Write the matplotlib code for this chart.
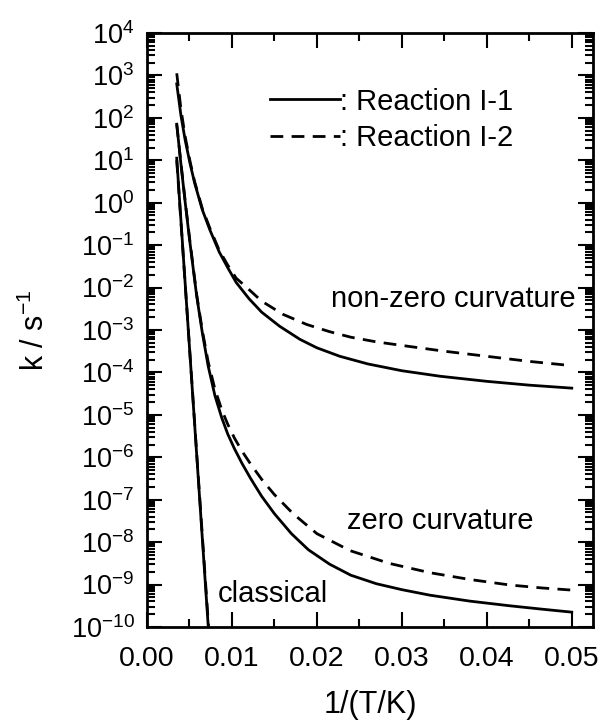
import numpy as np
import matplotlib
matplotlib.use("Agg")
import matplotlib.pyplot as plt
from matplotlib.lines import Line2D
from matplotlib.ticker import FixedLocator, FormatStrFormatter, LogLocator, LogFormatterMathtext

plt.rcParams['font.family'] = ['Liberation Sans', 'DejaVu Sans']
plt.rcParams['mathtext.fontset'] = 'custom'
plt.rcParams['mathtext.rm'] = 'Liberation Sans'
plt.rcParams['mathtext.it'] = 'Liberation Sans:italic'
plt.rcParams['mathtext.bf'] = 'Liberation Sans:bold'

# ---- data: x = 1/(T/K); values are log10(k / s^-1) ----
x_nz_1 = [0.0035, 0.0040, 0.0045, 0.00506, 0.0056, 0.0065, 0.0074, 0.0085, 0.0095, 0.0105,
          0.0120, 0.0135, 0.0156, 0.0180, 0.0200, 0.0227, 0.0260, 0.0300, 0.0345, 0.0400,
          0.0450, 0.0500]
lk_nz_1 = [2.80, 2.05, 1.47, 0.93, 0.47, -0.16, -0.64, -1.16, -1.53, -1.88,
           -2.26, -2.58, -2.91, -3.22, -3.42, -3.62, -3.80, -3.96, -4.09, -4.21,
           -4.30, -4.37]

x_nz_2 = [0.0035, 0.0040, 0.0045, 0.00506, 0.0056, 0.0065, 0.0074, 0.0085, 0.0095, 0.0105,
          0.0117, 0.0135, 0.0160, 0.0188, 0.0215, 0.0240, 0.0270, 0.0306, 0.0350, 0.0400,
          0.0450, 0.0500]
lk_nz_2 = [3.05, 2.20, 1.55, 0.98, 0.50, -0.13, -0.60, -1.12, -1.47, -1.78,
           -1.99, -2.32, -2.63, -2.87, -3.04, -3.17, -3.28, -3.38, -3.50, -3.62,
           -3.74, -3.84]

x_zc_1 = [0.0035, 0.0040, 0.0045, 0.0050, 0.0055, 0.00585, 0.0065, 0.0072, 0.0080, 0.0088,
          0.0095, 0.0103, 0.0112, 0.0122, 0.0135, 0.0150, 0.0170, 0.0190, 0.0215, 0.0240,
          0.0270, 0.0300, 0.0333, 0.0380, 0.0427, 0.0465, 0.0500]
lk_zc_1 = [1.85, 0.90, 0.00, -0.85, -1.65, -2.20, -3.05, -3.85, -4.55, -5.07,
           -5.45, -5.80, -6.15, -6.50, -6.92, -7.33, -7.80, -8.18, -8.52, -8.78,
           -8.98, -9.12, -9.25, -9.39, -9.50, -9.58, -9.65]

x_zc_2 = [0.0035, 0.0040, 0.0045, 0.0050, 0.0055, 0.00585, 0.0065, 0.0072, 0.0080, 0.0088,
          0.0095, 0.0103, 0.0112, 0.0122, 0.0135, 0.0150, 0.0172, 0.0200, 0.0239, 0.0285,
          0.0333, 0.0380, 0.0427, 0.0465, 0.0500]
lk_zc_2 = [1.85, 0.92, 0.03, -0.82, -1.62, -2.17, -3.00, -3.75, -4.40, -4.88,
           -5.22, -5.55, -5.86, -6.16, -6.52, -6.88, -7.33, -7.80, -8.20, -8.50,
           -8.72, -8.88, -9.01, -9.08, -9.13]

x_cl_1 = [0.0035, 0.0050, 0.0060, 0.0072]
lk_cl_1 = [1.05, -3.41, -6.39, -9.96]

x_cl_2 = [0.0035, 0.0050, 0.0060, 0.00725]
lk_cl_2 = [1.00, -3.40, -6.35, -10.00]

legend_labels = [": Reaction I-1", ": Reaction I-2"]
xticks = [0.00, 0.01, 0.02, 0.03, 0.04, 0.05]
xminor = [0.005, 0.015, 0.025, 0.035, 0.045]
annotations = [("non-zero curvature", 0.0360, -2.28, 'center'),
               ("zero curvature", 0.0345, -7.5, 'center'),
               ("classical", 0.00835, -9.22, 'left')]

def k(vals):
    return np.power(10.0, np.asarray(vals))

fig = plt.figure(figsize=(6.01, 7.25), dpi=100)
ax = fig.add_axes([147/601, 98/725, 446/601, 594/725])

lw = 2.0
dash = (4.6, 3.0)
ax.plot(x_nz_1, k(lk_nz_1), color='black', lw=lw)
ax.plot(x_nz_2, k(lk_nz_2), color='black', lw=lw, dashes=dash)
ax.plot(x_zc_1, k(lk_zc_1), color='black', lw=lw)
ax.plot(x_zc_2, k(lk_zc_2), color='black', lw=lw, dashes=dash)
ax.plot(x_cl_1, k(lk_cl_1), color='black', lw=lw)
ax.plot(x_cl_2, k(lk_cl_2), color='black', lw=lw, dashes=dash)

ax.set_yscale('log')
ax.set_xlim(0.0, 0.0525)
ax.set_ylim(1e-10, 1e4)

ax.xaxis.set_major_locator(FixedLocator(xticks))
ax.xaxis.set_minor_locator(FixedLocator(xminor))
ax.xaxis.set_major_formatter(FormatStrFormatter('%.2f'))
ax.yaxis.set_major_locator(LogLocator(base=10, numticks=30))
ax.yaxis.set_minor_locator(LogLocator(base=10, subs=np.arange(2, 10), numticks=30))
ax.yaxis.set_major_formatter(LogFormatterMathtext())

ax.tick_params(which='both', direction='in', top=True, right=True, width=1.5, colors='black')
ax.tick_params(which='major', length=10.5)
ax.tick_params(which='minor', length=5.5)
ax.tick_params(axis='x', which='major', labelsize=20.5, pad=13.5)
ax.tick_params(axis='y', which='major', labelsize=19.5, pad=9)
for s in ax.spines.values():
    s.set_linewidth(2.0)

ax.set_xlabel('1/(T/K)', fontsize=22, labelpad=13)
ax.set_ylabel('k / s$^{-1}$', fontsize=22, labelpad=14)

handles = [Line2D([], [], color='black', lw=lw),
           Line2D([], [], color='black', lw=lw, dashes=dash)]
ax.legend(handles, legend_labels, loc='upper left', bbox_to_anchor=(0.276, 0.908),
          frameon=False, handlelength=2.4, handletextpad=0.0, labelspacing=0.3,
          borderaxespad=0, borderpad=0, fontsize=21)

for txt, xv, lv, ha in annotations:
    ax.text(xv, 10.0 ** lv, txt, fontsize=21, ha=ha, va='center')

fig.savefig('out.png', dpi=100)
